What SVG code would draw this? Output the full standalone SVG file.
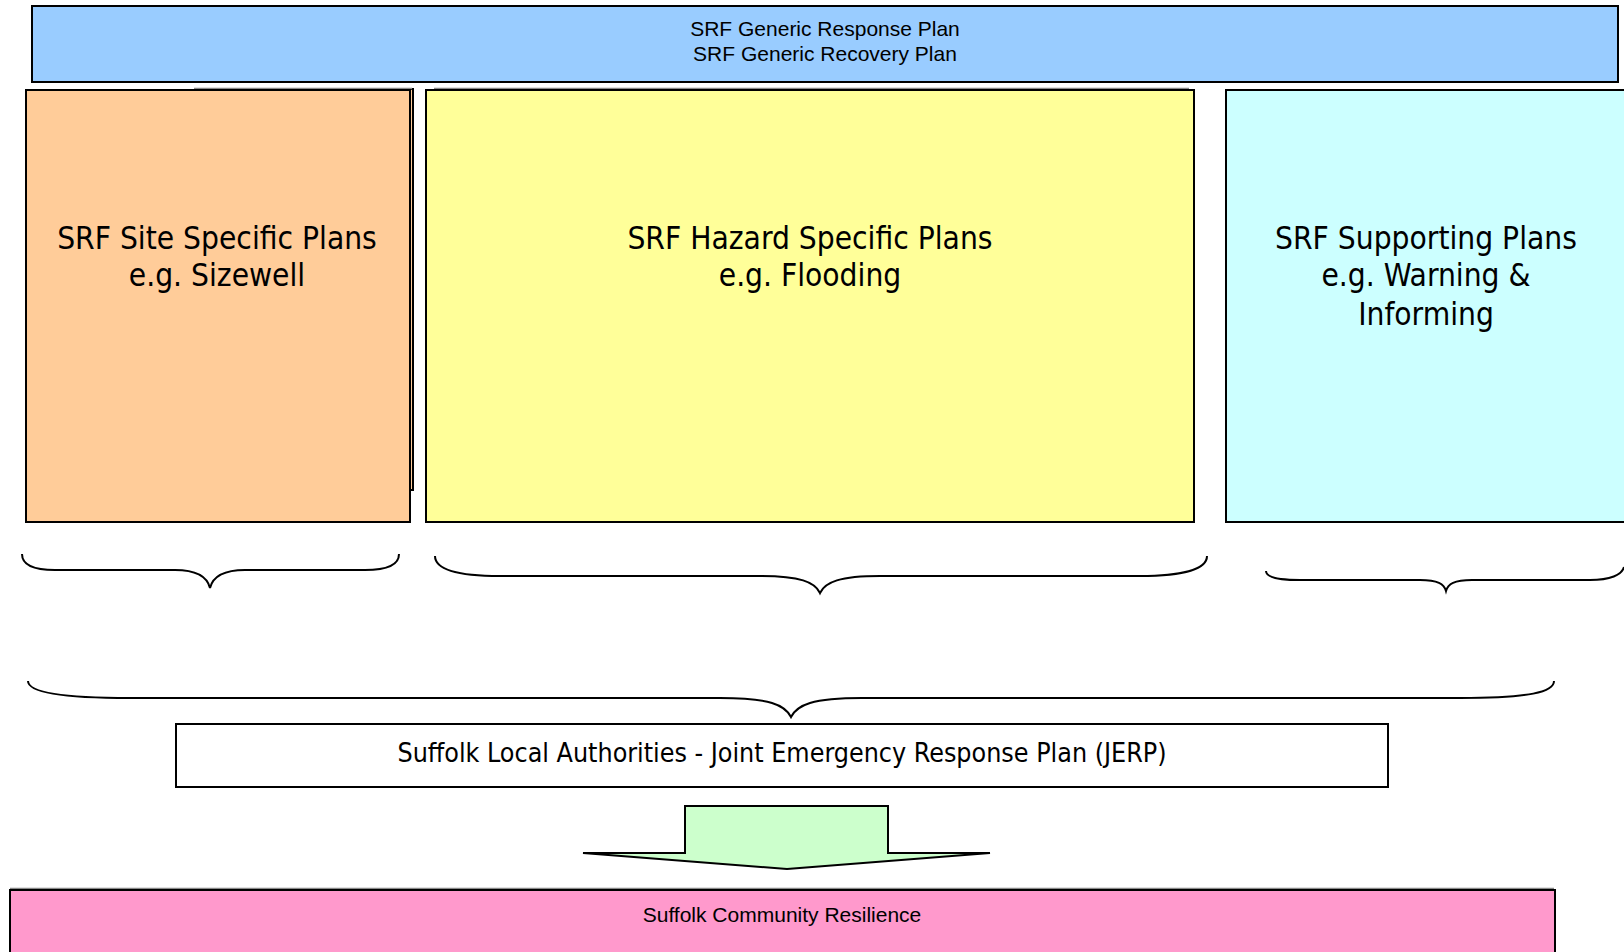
<svg xmlns="http://www.w3.org/2000/svg" width="1624" height="952" viewBox="0 0 1624 952">
<style>
.box{stroke:#000;stroke-width:2}
.sh{fill:none;stroke:#888;stroke-width:1.5}
.big{font-family:"DejaVu Sans Condensed","DejaVu Sans",sans-serif;font-size:31.4px;fill:#000;text-anchor:middle}
.sm{font-family:"Liberation Sans",Arial,sans-serif;font-size:21px;fill:#000;text-anchor:middle}
.mid{font-family:"DejaVu Sans Condensed","DejaVu Sans",sans-serif;font-size:26.6px;fill:#000;text-anchor:middle}
.br{fill:none;stroke:#000;stroke-width:2}
</style>
<rect width="1624" height="952" fill="#fff"/>
<g id="generic">
<rect class="box" x="32" y="6" width="1586" height="76" fill="#99CCFF"/>
<text class="sm" x="825" y="36">SRF Generic Response Plan</text>
<text class="sm" x="825" y="61">SRF Generic Recovery Plan</text>
</g>
<g id="site">
<rect x="196" y="89" width="217" height="401" fill="#FFCC99" stroke="#000" stroke-width="2"/>
<line class="sh" x1="194" y1="88.5" x2="412" y2="88.5"/>
<rect class="box" x="26" y="90" width="384" height="432" fill="#FFCC99"/>
<text class="big" x="217" y="249">SRF Site Specific Plans</text>
<text class="big" x="217" y="286">e.g. Sizewell</text>
</g>
<g id="hazard">
<line class="sh" x1="434" y1="88.5" x2="1189" y2="88.5"/>
<rect class="box" x="426" y="90" width="768" height="432" fill="#FFFF99"/>
<text class="big" x="810" y="249">SRF Hazard Specific Plans</text>
<text class="big" x="810" y="286">e.g. Flooding</text>
</g>
<g id="supporting">
<rect class="box" x="1226" y="90" width="410" height="432" fill="#CCFFFF"/>
<text class="big" x="1426" y="249">SRF Supporting Plans</text>
<text class="big" x="1426" y="286">e.g. Warning &amp;</text>
<text class="big" x="1426" y="325">Informing</text>
</g>
<g id="connectors">
<path class="br" d="M22,554 C22,566 35,570 55,570 L175,570 C195,570 207,576 210,588 C213,576 225,570 245,570 L365,570 C385,570 399,566 399,554"/>
<path class="br" d="M435,556 C435,570 460,576 500,576 L760,576 C800,576 815,582 820,593 C825,582 840,576 880,576 L1140,576 C1180,576 1207,570 1207,556"/>
<path class="br" d="M1266,571 C1266,578 1280,580 1300,580 L1420,580 C1438,580 1444,584 1446,591 C1448,584 1454,580 1472,580 L1590,580 C1610,580 1622,575 1624,567"/>
<path class="br" d="M28,681 C28,692 60,698 130,698 L720,698 C770,698 785,705 791,717 C797,705 812,698 862,698 L1460,698 C1530,698 1554,692 1554,681"/>
<polygon points="685,806 888,806 888,853 990,853 787,869 583,853 685,853" fill="#CCFFCC" stroke="#000" stroke-width="2" stroke-linejoin="miter"/>
</g>
<g id="jerp">
<rect class="box" x="176" y="724" width="1212" height="63" fill="#fff"/>
<text class="mid" x="782" y="762">Suffolk Local Authorities - Joint Emergency Response Plan (JERP)</text>
</g>
<g id="resilience">
<line class="sh" x1="10" y1="888.5" x2="1554" y2="888.5"/>
<rect class="box" x="10" y="890" width="1545" height="80" fill="#FF99CC"/>
<text class="sm" x="782" y="922">Suffolk Community Resilience</text>
</g>
</svg>
